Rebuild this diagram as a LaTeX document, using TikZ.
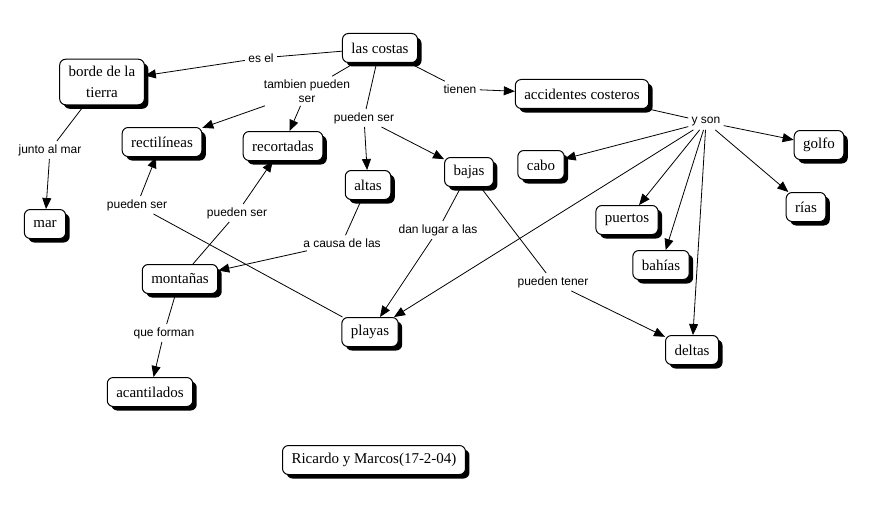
\documentclass[tikz,border=0pt]{standalone}
\usepackage{fontspec}
\setmainfont{Liberation Serif}
\setsansfont{Liberation Sans}
\usepackage{tikz}
\usetikzlibrary{arrows.meta, shadows}

\begin{document}
\begin{tikzpicture}[x=1pt, y=-1pt, line width=.8pt,
   link/.style={-{Triangle[length=11pt, width=9pt]}}]
\useasboundingbox (0,0) rectangle (882,516);
\begin{scope}[every node/.style={draw, line width=1pt, fill=white, rounded corners=6pt,
   inner xsep=9pt, inner ysep=3pt, minimum height=29pt, align=center,
   font=\fontsize{15}{18}\selectfont,
   drop shadow={shadow xshift=4pt, shadow yshift=-4pt, fill=black, opacity=1}}]
   \node (costas) at (380,48) {las costas};
   \node[font=\fontsize{15}{21}\selectfont, inner ysep=7pt] (borde) at (102,82) {borde de la\\tierra};
   \node (rect) at (162,142) {rectilíneas};
   \node (recort) at (283,146) {recortadas};
   \node (altas) at (368,185) {altas};
   \node (bajas) at (469,172) {bajas};
   \node (mar) at (45,224) {mar};
   \node (acc) at (582,94) {accidentes costeros};
   \node (golfo) at (819,145) {golfo};
   \node (cabo) at (541,165) {cabo};
   \node (rias) at (806,207) {rías};
   \node (puertos) at (627,220) {puertos};
   \node (bahias) at (661,265) {bahías};
   \node (deltas) at (692,350) {deltas};
   \node (montanas) at (180,279) {montañas};
   \node (playas) at (370,332) {playas};
   \node (acant) at (150,392) {acantilados};
   \node (autores) at (374,460) {Ricardo y Marcos(17-2-04)};
\end{scope}
\begin{scope}[every node/.style={inner sep=3pt, align=center,
   font=\sffamily\fontsize{12}{14}\selectfont}]
   \node (esel) at (261,58) {es el};
   \node (tamb) at (307,91) {tambien pueden\\ser};
   \node (ps1) at (364,118) {pueden ser};
   \node (tienen) at (460,89) {tienen};
   \node (yson) at (706,122) {y son};
   \node (junto) at (50,150) {junto al mar};
   \node (ps2) at (137,205) {pueden ser};
   \node (ps3) at (237,213) {pueden ser};
   \node (causa) at (342,243) {a causa de las};
   \node (lugar) at (438,230) {dan lugar a las};
   \node (tener) at (553,282) {pueden tener};
   \node (forman) at (164,333) {que forman};
\end{scope}
 % las costas
 \draw (costas)--(esel);
 \draw[link] (esel)--(borde);
 \draw (costas)--(tamb);
 \draw[link] (tamb)--(rect);
 \draw[link] (tamb)--(recort);
 \draw (costas)--(ps1);
 \draw[link] (ps1)--(altas);
 \draw[link] (ps1)--(bajas);
 \draw (costas)--(tienen);
 \draw[link] (tienen)--(acc);
 % accidentes costeros
 \draw (acc)--(yson);
 \foreach \t in {cabo, golfo, rias, puertos, bahias, deltas, playas}
   \draw[link] (yson)--(\t);
 % resto
 \draw (borde)--(junto);
 \draw[link] (junto)--(mar);
 \draw (playas)--(ps2);
 \draw[link] (ps2)--(rect);
 \draw (montanas)--(ps3);
 \draw[link] (ps3)--(recort);
 \draw (altas)--(causa);
 \draw[link] (causa)--(montanas);
 \draw (bajas)--(lugar);
 \draw[link] (lugar)--(playas);
 \draw (bajas)--(tener);
 \draw[link] (tener)--(deltas);
 \draw (montanas)--(forman);
 \draw[link] (forman)--(acant);
\end{tikzpicture}
\end{document}
